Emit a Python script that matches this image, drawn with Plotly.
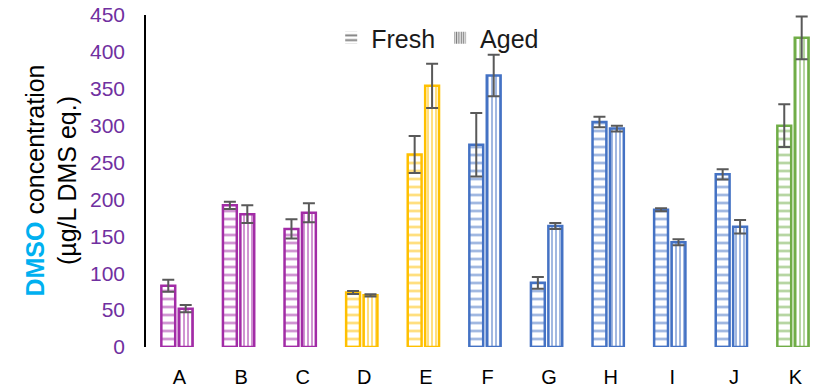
import plotly.graph_objects as go

categories = ["A", "B", "C", "D", "E", "F", "G", "H", "I", "J", "K"]
fresh = [83, 192, 160, 74, 261, 274, 87, 305, 186, 234, 300]
fresh_err = [8, 5, 13, 2, 25, 43, 8, 7, 2, 7, 29]
aged = [52, 180, 182, 70, 354, 368, 164, 296, 142, 163, 419]
aged_err = [5, 12, 13, 1.5, 30, 28, 4, 4, 4, 9, 29]
colors = ["#A22CA6", "#A22CA6", "#A22CA6", "#FFC000", "#FFC000",
          "#4472C4", "#4472C4", "#4472C4", "#4472C4", "#4472C4", "#70AD47"]
yticks = [0, 50, 100, 150, 200, 250, 300, 350, 400, 450]

FONT = "Arial, Liberation Sans, sans-serif"
ERR = dict(type="data", symmetric=True, color="#595959", thickness=2, width=6)

fig = go.Figure()
fig.add_trace(go.Bar(
    x=categories, y=fresh, name="Fresh", showlegend=False,
    offset=-0.295, width=0.225,
    marker=dict(color="white", line=dict(color=colors, width=2.5),
                pattern=dict(shape="-", fgcolor=colors, bgcolor="white",
                             size=8, solidity=0.35, fillmode="overlay")),
    error_y=dict(array=fresh_err, **ERR),
))
fig.add_trace(go.Bar(
    x=categories, y=aged, name="Aged", showlegend=False,
    offset=-0.012, width=0.225,
    marker=dict(color="white", line=dict(color=colors, width=2.5),
                pattern=dict(shape="|", fgcolor=colors, bgcolor="white",
                             size=4, solidity=0.5, fillmode="overlay")),
    error_y=dict(array=aged_err, **ERR),
))
# legend-only swatches
fig.add_trace(go.Bar(
    x=[categories[0]], y=[0], name="Fresh", showlegend=True,
    marker=dict(color="white", line=dict(width=0),
                pattern=dict(shape="-", fgcolor="black", bgcolor="white",
                             size=6, solidity=0.4, fillmode="overlay")),
))
fig.add_trace(go.Bar(
    x=[categories[0]], y=[0], name="Aged", showlegend=True,
    marker=dict(color="white", line=dict(width=0),
                pattern=dict(shape="|", fgcolor="black", bgcolor="white",
                             size=3, solidity=0.55, fillmode="overlay")),
))

fig.update_layout(
    width=817, height=388,
    margin=dict(l=146, r=0, t=15, b=41),
    barmode="overlay",
    plot_bgcolor="white", paper_bgcolor="white",
    font=dict(family=FONT, size=19, color="black"),
    legend=dict(orientation="h", x=0.276, y=1.0, xanchor="left", yanchor="top",
                font=dict(size=25, color="#1a1a1a"), bgcolor="rgba(0,0,0,0)",
                itemwidth=30),
    xaxis=dict(range=[-0.544, 10.349], showline=False, showgrid=False, ticks="",
               tickfont=dict(size=20, color="black"), ticklabelstandoff=16),
    yaxis=dict(range=[0, 450], tickvals=yticks, showgrid=False, zeroline=False,
               showline=True, linecolor="black", linewidth=1.5, ticks="",
               tickfont=dict(size=21, color="#7030A0"), ticklabelstandoff=15),
    annotations=[dict(
        text="<b><span style='color:#00B0F0'>DMSO</span></b> concentration<br>(µg/L DMS eq.)",
        xref="paper", yref="paper", x=-0.1423, y=0.5, xanchor="center", yanchor="middle",
        textangle=-90, showarrow=False, font=dict(size=25, color="black"))],
)

fig.write_html("out.html", config={"displayModeBar": False},
               post_script="document.body.style.margin='0';")
